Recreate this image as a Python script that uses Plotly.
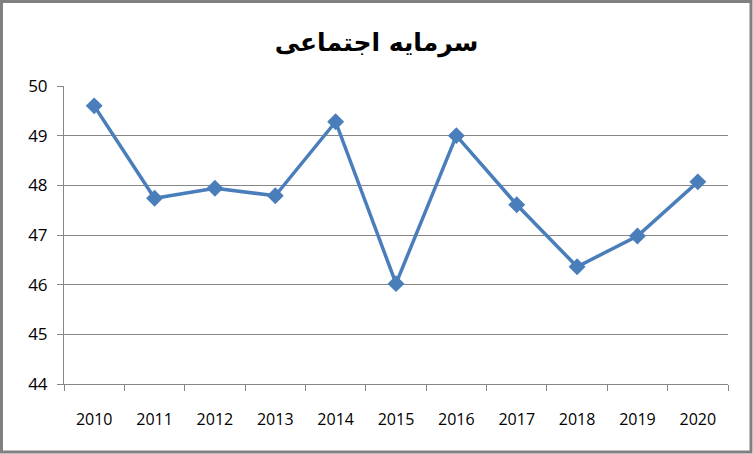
import plotly.graph_objects as go

years = ["2010", "2011", "2012", "2013", "2014", "2015", "2016", "2017", "2018", "2019", "2020"]
values = [49.60, 47.74, 47.94, 47.79, 49.28, 46.02, 49.00, 47.61, 46.36, 46.98, 48.07]
title_text = "سرمایه اجتماعی"

W, H = 753, 454
ml, mr, mt, mb = 64, 25, 86, 70
pw, ph = W - ml - mr, H - mt - mb

fig = go.Figure()
fig.add_trace(go.Scatter(
    x=years, y=values, mode="lines+markers",
    line=dict(color="#4A7EBB", width=3.5),
    marker=dict(symbol="diamond", size=13, color="#4A7EBB"),
    showlegend=False, hoverinfo="x+y",
))

axis_gray = "#868686"
fig.update_layout(
    width=W, height=H,
    margin=dict(l=ml, r=mr, t=mt, b=mb, pad=0),
    paper_bgcolor="white", plot_bgcolor="white",
    title=dict(text="<b>" + title_text + "</b>", x=0.5, xanchor="center",
               y=1 - 42 / H, yanchor="middle",
               font=dict(family="DejaVu Sans", size=25, color="black")),
    xaxis=dict(type="category", range=[-0.5, 10.5], tickson="boundaries",
               ticks="outside", ticklen=6, tickcolor=axis_gray,
               showline=True, linecolor=axis_gray, linewidth=1,
               showgrid=False, zeroline=False,
               tickfont=dict(family="Open Sans", size=16, color="black"),
               ticklabelstandoff=21),
    yaxis=dict(range=[44, 50], dtick=1, ticks="outside", ticklen=6,
               tickcolor=axis_gray, showline=True, linecolor=axis_gray,
               linewidth=1, showgrid=True, gridcolor=axis_gray, gridwidth=1,
               zeroline=False, ticklabelstandoff=6,
               tickfont=dict(family="Open Sans", size=17, color="black")),
    shapes=[dict(type="rect", xref="paper", yref="paper",
                 x0=(1.5 - ml) / pw, x1=(W - 2 - ml) / pw,
                 y0=-(mb - 2) / ph, y1=1 + (mt - 1.5) / ph,
                 line=dict(color="#808080", width=3), layer="above")],
)

fig.write_html("out.html", config={"displayModeBar": False},
               post_script="document.body.style.margin='0';document.body.style.overflow='hidden';")
